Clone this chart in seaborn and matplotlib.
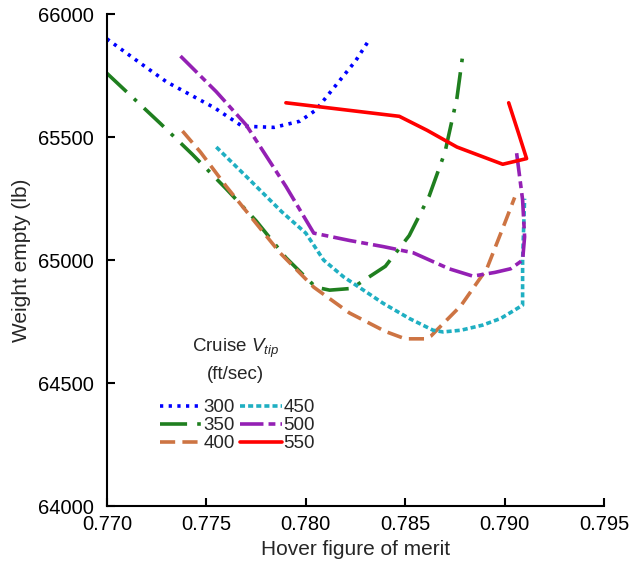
import matplotlib
matplotlib.use("Agg")
import matplotlib.pyplot as plt
import seaborn as sns

# Hover figure of merit vs weight empty, one curve per cruise tip speed
fm_300 = [0.7700, 0.7717, 0.7730, 0.7754, 0.7768, 0.7784, 0.7797, 0.7805, 0.7811, 0.7818, 0.7825, 0.7831]
we_300 = [65900, 65800, 65725, 65620, 65545, 65540, 65565, 65610, 65670, 65740, 65810, 65885]

fm_350 = [0.7700, 0.7727, 0.7743, 0.7760, 0.7775, 0.7790, 0.7805, 0.7812, 0.7823, 0.7840, 0.7852, 0.7862, 0.7870, 0.7876, 0.7879]
we_350 = [65760, 65555, 65430, 65290, 65160, 65010, 64890, 64878, 64885, 64975, 65100, 65260, 65440, 65660, 65840]

fm_400 = [0.7738, 0.7747, 0.7760, 0.7774, 0.7787, 0.7804, 0.7822, 0.7840, 0.7850, 0.7860, 0.7863, 0.7878, 0.7891, 0.7900, 0.7905]
we_400 = [65525, 65440, 65300, 65160, 65030, 64890, 64785, 64710, 64680, 64680, 64692, 64815, 64965, 65150, 65255]

fm_450 = [0.7755, 0.7772, 0.7788, 0.7800, 0.7809, 0.7819, 0.7839, 0.7852, 0.7864, 0.7869, 0.7878, 0.7889, 0.7898, 0.7905, 0.7909, 0.7909, 0.7910]
we_450 = [65460, 65325, 65196, 65110, 65000, 64932, 64824, 64763, 64715, 64708, 64715, 64736, 64763, 64797, 64817, 65000, 65250]

fm_500 = [0.7737, 0.7755, 0.7770, 0.7790, 0.7804, 0.7822, 0.7839, 0.7854, 0.7872, 0.7884, 0.7895, 0.7903, 0.7909, 0.7910, 0.7909, 0.7906]
we_500 = [65830, 65685, 65550, 65300, 65110, 65080, 65055, 65030, 64965, 64935, 64950, 64965, 65000, 65095, 65245, 65435]

fm_550 = [0.7790, 0.7847, 0.7861, 0.7876, 0.7899, 0.7911, 0.7907, 0.7902]
we_550 = [65640, 65585, 65528, 65460, 65390, 65413, 65515, 65640]

labels = ["300", "350", "400", "450", "500", "550"]
colors = ["#0000ff", "#1f7f1f", "#cd7443", "#1fafc2", "#9420b4", "#ff0000"]
styles = [(0, (0.9, 1.5)),
          (0, (7.5, 2.8, 1, 2.8)),
          (0, (4.2, 2.0)),
          (0, (1.4, 0.85)),
          (0, (6.5, 1.4, 1.9, 1.4)),
          "-"]
xticks = [0.770, 0.775, 0.780, 0.785, 0.790, 0.795]
yticks = [64000, 64500, 65000, 65500, 66000]

sns.set_style("ticks")
plt.rcParams["font.family"] = ["Liberation Sans", "DejaVu Sans"]
plt.rcParams["mathtext.fontset"] = "custom"
plt.rcParams["mathtext.rm"] = "Liberation Sans"
plt.rcParams["mathtext.it"] = "Liberation Sans:italic"

fig = plt.figure(figsize=(6.4, 5.62), dpi=100)
ax = fig.add_axes([0.167, 0.0996, 0.777, 0.875])

series = [(fm_300, we_300), (fm_350, we_350), (fm_400, we_400),
          (fm_450, we_450), (fm_500, we_500), (fm_550, we_550)]
for (fx, wy), lab, col, ls in zip(series, labels, colors, styles):
    sns.lineplot(x=fx, y=wy, ax=ax, sort=False, estimator=None, color=col,
                 linestyle=ls, linewidth=2.6, label=lab)

ax.set_xlim(0.770, 0.795)
ax.set_ylim(64000, 66000)
ax.set_xticks(xticks)
ax.set_xticklabels([f"{t:.3f}" for t in xticks])
ax.set_yticks(yticks)
ax.tick_params(direction="in", length=6, width=1.5, labelsize=14.5, colors="black")
ax.tick_params(axis="y", pad=9.5)
ax.tick_params(axis="x", pad=6.5)
for s in ["left", "bottom"]:
    ax.spines[s].set_linewidth(1.5)
    ax.spines[s].set_color("black")
sns.despine(ax=ax)

ax.set_xlabel("Hover figure of merit", fontsize=15, labelpad=4)
ax.set_ylabel("Weight empty (lb)", fontsize=15, labelpad=5)

handles, _ = ax.get_legend_handles_labels()
ax.legend(handles, labels, ncol=2, frameon=False, fontsize=13.5,
          loc="upper left", bbox_to_anchor=(0.081, 0.244),
          handlelength=2.2, handletextpad=0.1, columnspacing=0.3,
          labelspacing=0.05, borderpad=0.2)
ax.text(0.258, 0.2975, "Cruise $V_{tip}$\n(ft/sec)", transform=ax.transAxes,
        ha="center", va="center", multialignment="center",
        fontsize=13.5, linespacing=1.45)

fig.savefig("out.png", dpi=100)
